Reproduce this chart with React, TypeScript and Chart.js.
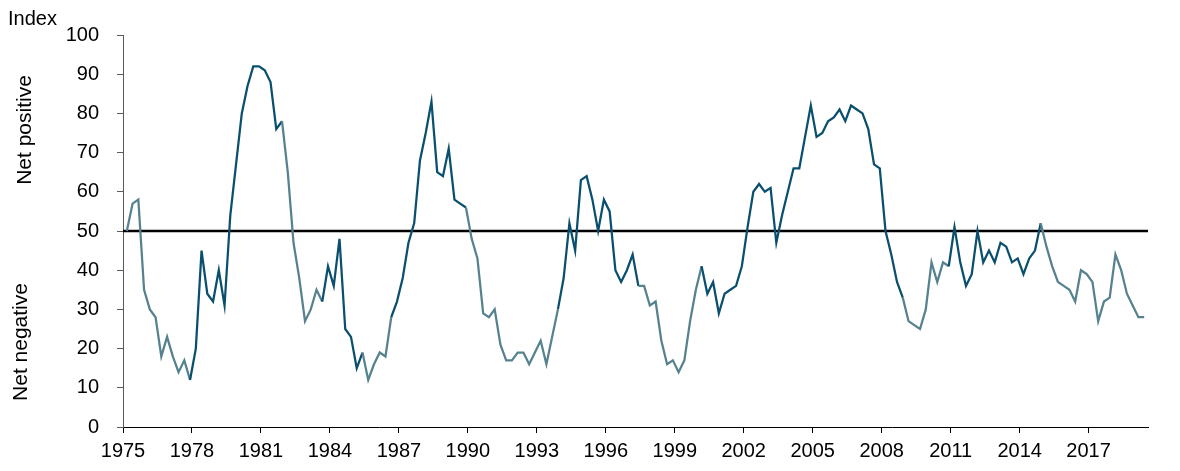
import React, { useEffect, useRef } from 'react';
import { Chart, registerables } from 'chart.js';

Chart.register(...registerables);

// Quarterly index, first observation in Q1 1975
const startYear = 1975;
const values: number[] = [
  50, 57, 58, 35, 30, 28, 18, 23, 18, 14, 17, 12, 20, 45, 34, 32, 40, 31, 54, 67,
  80, 87, 92, 92, 91, 88, 76, 78, 65, 47, 38, 27, 30, 35, 32, 41, 36, 48, 25, 23,
  15, 19, 12, 16, 19, 18, 28, 32, 38, 47, 52, 68, 75, 83, 65, 64, 71, 58, 57, 56,
  48, 43, 29, 28, 30, 21, 17, 17, 19, 19, 16, 19, 22, 16, 23, 30, 38, 52, 45, 63,
  64, 58, 50, 58, 55, 40, 37, 40, 44, 36, 36, 31, 32, 22, 16, 17, 14, 17, 27, 35,
  41, 34, 37, 29, 34, 35, 36, 41, 51, 60, 62, 60, 61, 47, 54, 60, 66, 66, 74, 82,
  74, 75, 78, 79, 81, 78, 82, 81, 80, 76, 67, 66, 50, 44, 37, 33, 27, 26, 25, 30,
  42, 37, 42, 41, 51, 42, 36, 39, 50, 42, 45, 42, 47, 46, 42, 43, 39, 43, 45, 52,
  46, 41, 37, 36, 35, 32, 40, 39, 37, 27, 32, 33, 44, 40, 34, 31, 28, 28,
];
const tickYears: number[] = [1975, 1978, 1981, 1984, 1987, 1990, 1993, 1996, 1999, 2002, 2005, 2008, 2011, 2014, 2017];
const yTickValues: number[] = [0, 10, 20, 30, 40, 50, 60, 70, 80, 90, 100];
const referenceLevel = 50;
const axisEnd = 2019 + 7 / 12;
// quarter index ranges (segment start indices) drawn in the darker shade
const darkPhases: [number, number][] = [
  [11, 26], [34, 40], [46, 58], [75, 88], [100, 134], [143, 158],
];

const DARK = '#0a4f6e';
const GREY = '#56828f';
const FONT = '"Liberation Sans", Arial, Helvetica, sans-serif';

export default function App() {
  const ref = useRef<HTMLCanvasElement | null>(null);

  useEffect(() => {
    document.body.style.margin = '0';
    const canvas = ref.current;
    if (!canvas) return;

    const points = values.map((v, i) => ({ x: startYear + (2 + 3 * i) / 12, y: v }));
    const isDark = (idx: number) => darkPhases.some(([a, b]) => idx >= a && idx <= b);

    const labelsPlugin = {
      id: 'sideLabels',
      afterDraw(chart: any) {
        const ctx = chart.ctx;
        ctx.save();
        ctx.fillStyle = '#000';
        ctx.font = `20px ${FONT}`;
        ctx.textAlign = 'left';
        ctx.textBaseline = 'alphabetic';
        ctx.fillText('Index', 8, 25);
        ctx.font = `21px ${FONT}`;
        ctx.textAlign = 'center';
        ctx.textBaseline = 'middle';
        ctx.translate(25, 130);
        ctx.rotate(-Math.PI / 2);
        ctx.fillText('Net positive', 0, 0);
        ctx.restore();
        ctx.save();
        ctx.fillStyle = '#000';
        ctx.font = `21px ${FONT}`;
        ctx.textAlign = 'center';
        ctx.textBaseline = 'middle';
        ctx.translate(21, 342);
        ctx.rotate(-Math.PI / 2);
        ctx.fillText('Net negative', 0, 0);
        ctx.restore();
      },
    };

    const chart = new Chart(canvas, {
      type: 'line',
      data: {
        datasets: [
          {
            label: 'Index',
            data: points,
            borderColor: DARK,
            borderWidth: 2.25,
            pointRadius: 0,
            tension: 0,
            order: 0,
            segment: {
              borderColor: (c: any) => (isDark(c.p0DataIndex) ? DARK : GREY),
            },
          } as any,
          {
            label: 'Neutral',
            data: [
              { x: startYear, y: referenceLevel },
              { x: axisEnd, y: referenceLevel },
            ],
            borderColor: '#000',
            borderWidth: 2.5,
            pointRadius: 0,
            order: 1,
          },
        ],
      },
      options: {
        responsive: false,
        animation: false,
        layout: { padding: { left: 0, top: 35, right: 32, bottom: 0 } },
        plugins: {
          legend: { display: false },
          tooltip: { enabled: false },
        },
        scales: {
          x: {
            type: 'linear',
            min: startYear,
            max: axisEnd,
            afterBuildTicks: (scale: any) => {
              scale.ticks = tickYears.map((v) => ({ value: v }));
            },
            afterFit: (scale: any) => {
              scale.height = 44;
            },
            ticks: {
              autoSkip: false,
              maxRotation: 0,
              padding: 6,
              color: '#000',
              font: { family: FONT, size: 20 },
              callback: (v: any) => String(v),
            },
            grid: {
              display: true,
              drawOnChartArea: false,
              drawTicks: true,
              tickLength: 6,
              color: '#000',
            },
            border: { display: true, color: '#000', width: 1 },
          },
          y: {
            min: 0,
            max: 100,
            afterBuildTicks: (scale: any) => {
              scale.ticks = yTickValues.map((v) => ({ value: v }));
            },
            afterFit: (scale: any) => {
              scale.width = 123;
            },
            ticks: {
              padding: 18,
              color: '#000',
              font: { family: FONT, size: 20 },
              callback: (v: any) => String(v),
            },
            grid: {
              display: true,
              drawOnChartArea: false,
              drawTicks: true,
              tickLength: 6,
              color: '#595959',
            },
            border: { display: true, color: '#595959', width: 1 },
          },
        },
      },
      plugins: [labelsPlugin],
    });

    return () => chart.destroy();
  }, []);

  return (
    <canvas
      ref={ref}
      width={1180}
      height={471}
      style={{ display: 'block', width: '1180px', height: '471px' }}
    />
  );
}
